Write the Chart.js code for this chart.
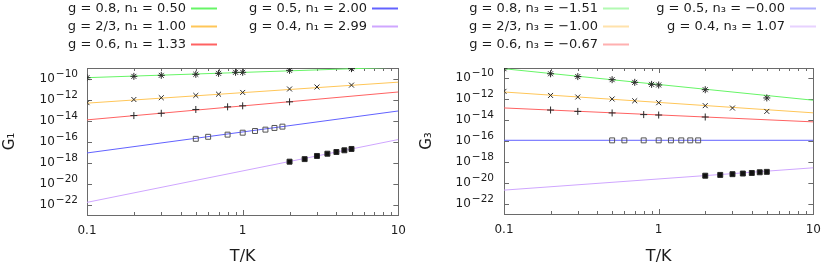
<!DOCTYPE html>
<html>
<head>
  <meta charset="utf-8">
  <title>G1 and G3 against T</title>
  <style>
    body { margin: 0; background: #fff; }
    canvas { position: absolute; top: 0; }
  </style>
</head>
<body>
  <canvas id="c1" width="415" height="264" style="left:0"></canvas>
  <canvas id="c3" width="415" height="264" style="left:415px"></canvas>

  <script src="https://cdn.jsdelivr.net/npm/chart.js"></script>
  <script>
    // legend labels and colours
    const labelsG1 = ['g = 0.8, n\u2081 = 0.50', 'g = 2/3, n\u2081 = 1.00', 'g = 0.6, n\u2081 = 1.33',
                      'g = 0.5, n\u2081 = 2.00', 'g = 0.4, n\u2081 = 2.99'];
    const labelsG3 = ['g = 0.8, n\u2083 = \u22121.51', 'g = 2/3, n\u2083 = \u22121.00', 'g = 0.6, n\u2083 = \u22120.67',
                      'g = 0.5, n\u2083 = \u22120.00', 'g = 0.4, n\u2083 = 1.07'];
    const lineColors = ['#66f566', '#ffc658', '#ff6262', '#6262ff', '#cfa6ff'];

    // fitted power laws, value at T = 0.1 and T = 10
    const lineT = [0.1, 10];
    const lineG1 = [[1.2e-10, 1.2e-9], [4.5e-13, 4.5e-11], [1.15e-14, 5.2e-12], [8.1e-18, 8.1e-14], [1.6e-22, 1.55e-16]];
    const lineG3 = [[8.5e-10, 8.1e-13], [5.0e-12, 5.0e-14], [1.48e-13, 6.8e-15], [1.17e-16, 1.17e-16], [1.95e-21, 2.7e-19]];

    // data points (temperatures per series)
    const tGreen  = [0.1, 0.2, 0.3, 0.5, 0.7, 0.9, 1, 2, 5];
    const tOrange = [0.1, 0.2, 0.3, 0.5, 0.7, 1, 2, 3, 5];
    const tRed    = [0.2, 0.3, 0.5, 0.8, 1, 2];
    const tBlue   = [0.5, 0.6, 0.8, 1, 1.2, 1.4, 1.6, 1.8];
    const tPurple = [2, 2.5, 3, 3.5, 4, 4.5, 5];

    const g1Green  = [1.2e-10, 1.6e-10, 2.0e-10, 2.5e-10, 3.1e-10, 3.9e-10, 3.9e-10, 6.0e-10, 8.7e-10];
    const g1Orange = [5.0e-13, 1.0e-12, 1.48e-12, 2.45e-12, 3.2e-12, 4.7e-12, 1.0e-11, 1.55e-11, 2.35e-11];
    const g1Red    = [2.95e-14, 4.9e-14, 1.12e-13, 2.0e-13, 2.5e-13, 6.0e-13];
    const g1Blue   = [1.8e-16, 2.8e-16, 4.5e-16, 6.9e-16, 1.0e-15, 1.35e-15, 1.95e-15, 2.6e-15];
    const g1Purple = [1.2e-18, 2.1e-18, 4.2e-18, 6.9e-18, 1.0e-17, 1.45e-17, 1.95e-17];

    const g3Green  = [8.5e-10, 2.8e-10, 1.5e-10, 7.6e-11, 4.2e-11, 2.7e-11, 2.35e-11, 8.3e-12, 1.35e-12];
    const g3Orange = [5.8e-12, 2.35e-12, 1.65e-12, 1.07e-12, 7.2e-13, 4.7e-13, 2.45e-13, 1.45e-13, 6.9e-14];
    const g3Red    = [9.3e-14, 6.9e-14, 4.9e-14, 3.4e-14, 3.1e-14, 2.0e-14];
    const g3Blue   = [1.15e-16, 1.15e-16, 1.15e-16, 1.15e-16, 1.15e-16, 1.15e-16, 1.15e-16, 1.15e-16];
    const g3Purple = [4.7e-20, 5.6e-20, 6.6e-20, 7.6e-20, 8.6e-20, 1.0e-19, 1.1e-19];

    const pointT = [tGreen, tOrange, tRed, tBlue, tPurple];
    const pointStyles = ['star', 'crossRot', 'cross', 'rect', 'rect'];

    // axes
    const xMajor = [0.1, 1, 10];
    const xMinor = [0.2, 0.3, 0.4, 0.5, 0.6, 0.7, 0.8, 0.9, 2, 3, 4, 5, 6, 7, 8, 9];
    const yTicks = [1e-10, 1e-12, 1e-14, 1e-16, 1e-18, 1e-20, 1e-22];
    const yExp   = ['\u221210', '\u221212', '\u221214', '\u221216', '\u221218', '\u221220', '\u221222'];

    const FONT = "'DejaVu Sans', sans-serif";
    const INK = '#1c1c1c';
    Chart.defaults.font.family = FONT;
    Chart.defaults.color = INK;

    // frame with inward ticks, y labels as 10^exp, gnuplot-like key
    const framePlugin = {
      id: 'frame',
      beforeDatasetsDraw(chart, args, opts) {
        const { ctx, chartArea: a, scales: { x, y } } = chart;
        ctx.save();
        ctx.strokeStyle = '#6a6a6a';
        ctx.lineWidth = 1;
        ctx.beginPath();
        const tick = (v, len) => {
          const px = Math.round(x.getPixelForValue(v)) + 0.5;
          ctx.moveTo(px, a.bottom); ctx.lineTo(px, a.bottom - len);
          ctx.moveTo(px, a.top); ctx.lineTo(px, a.top + len);
        };
        xMajor.forEach(v => tick(v, 5));
        xMinor.forEach(v => tick(v, 3));
        yTicks.forEach(v => {
          const py = Math.round(y.getPixelForValue(v)) + 0.5;
          ctx.moveTo(a.left, py); ctx.lineTo(a.left + 5, py);
          ctx.moveTo(a.right, py); ctx.lineTo(a.right - 5, py);
        });
        ctx.stroke();
        ctx.strokeRect(Math.round(a.left) + 0.5, Math.round(a.top) + 0.5,
                       Math.round(a.right - a.left), Math.round(a.bottom - a.top));
        ctx.restore();
      },
      afterDraw(chart, args, opts) {
        const { ctx, chartArea: a, scales: { y } } = chart;
        ctx.save();
        ctx.fillStyle = INK;
        ctx.textAlign = 'right';
        yTicks.forEach((v, i) => {
          const py = y.getPixelForValue(v);
          ctx.font = '10.5px ' + FONT;
          ctx.textBaseline = 'alphabetic';
          const right = a.left - opts.gap;
          ctx.fillText(yExp[i], right, py - 2);
          const w = ctx.measureText(yExp[i]).width;
          ctx.font = '12px ' + FONT;
          ctx.fillText('10', right - w - 1, py + 3);
        });
        // key
        ctx.font = '13px ' + FONT;
        ctx.textBaseline = 'middle';
        const lines = chart.data.datasets.filter(d => d.showLine);
        lines.forEach((d, i) => {
          const col = i < 3 ? 0 : 1;
          const row = i < 3 ? i : i - 3;
          const xr = opts.keyX[col];
          const yy = 8.5 + row * 18;
          ctx.fillStyle = INK;
          ctx.fillText(d.label, xr, yy);
          ctx.globalAlpha = opts.keyAlpha;
          ctx.strokeStyle = d.borderColor;
          ctx.lineWidth = 2;
          ctx.beginPath();
          ctx.moveTo(xr + 5, yy); ctx.lineTo(xr + 31, yy);
          ctx.stroke();
          ctx.globalAlpha = 1;
        });
        ctx.restore();
      }
    };

    function makeChart(id, lineVals, pointVals, labels, yTitle, geo) {
      const datasets = [];
      lineVals.forEach((vals, i) => {
        datasets.push({
          label: labels[i],
          showLine: true,
          data: lineT.map((t, k) => ({ x: t, y: vals[k] })),
          borderColor: lineColors[i],
          borderWidth: 1,
          pointRadius: 0,
          order: 2
        });
      });
      pointVals.forEach((vals, i) => {
        datasets.push({
          label: '',
          showLine: false,
          data: pointT[i].map((t, k) => ({ x: t, y: vals[k] })),
          pointStyle: pointStyles[i],
          pointRadius: 3.5,
          borderWidth: 1,
          borderColor: i === 3 ? '#555' : '#2a2a2a',
          backgroundColor: i === 4 ? '#111' : 'rgba(0,0,0,0)',
          order: 1
        });
      });

      return new Chart(document.getElementById(id), {
        type: 'scatter',
        data: { datasets },
        plugins: [framePlugin],
        options: {
          responsive: false,
          animation: false,
          devicePixelRatio: 1,
          layout: { padding: { left: 0, right: geo.right, top: geo.top, bottom: 0 } },
          plugins: {
            legend: { display: false },
            tooltip: { enabled: false },
            frame: { gap: geo.gap, keyX: geo.keyX, keyAlpha: geo.keyAlpha }
          },
          scales: {
            x: {
              type: 'logarithmic',
              min: 0.1,
              max: 10,
              afterBuildTicks: s => { s.ticks = xMajor.map(v => ({ value: v })); },
              afterFit: s => { s.height = geo.xH; },
              ticks: {
                callback: v => String(v),
                font: { size: 12 },
                padding: 9,
                maxRotation: 0,
                autoSkip: false
              },
              grid: { display: false, drawTicks: false },
              border: { display: false },
              title: { display: true, text: 'T/K', font: { size: 16 }, padding: { top: 0, bottom: -2 } }
            },
            y: {
              type: 'logarithmic',
              min: 1e-23,
              max: 1e-9,
              afterBuildTicks: s => { s.ticks = yTicks.map(v => ({ value: v })); },
              afterFit: s => { s.width = geo.yW; },
              ticks: { display: false },
              grid: { display: false, drawTicks: false },
              border: { display: false },
              title: { display: true, text: yTitle, font: { size: 15 }, padding: { top: geo.titlePad, bottom: 0 } }
            }
          }
        }
      });
    }

    makeChart('c1', lineG1, [g1Green, g1Orange, g1Red, g1Blue, g1Purple], labelsG1, 'G\u2081',
      { right: 12, top: 68, xH: 49, yW: 87, gap: 9, titlePad: 1, keyX: [186, 367], keyAlpha: 1 });
    makeChart('c3', lineG3, [g3Green, g3Orange, g3Red, g3Blue, g3Purple], labelsG3, 'G\u2083',
      { right: 9, top: 68, xH: 50, yW: 89, gap: 10, titlePad: 3, keyX: [183, 370], keyAlpha: 0.5 });
  </script>
</body>
</html>
